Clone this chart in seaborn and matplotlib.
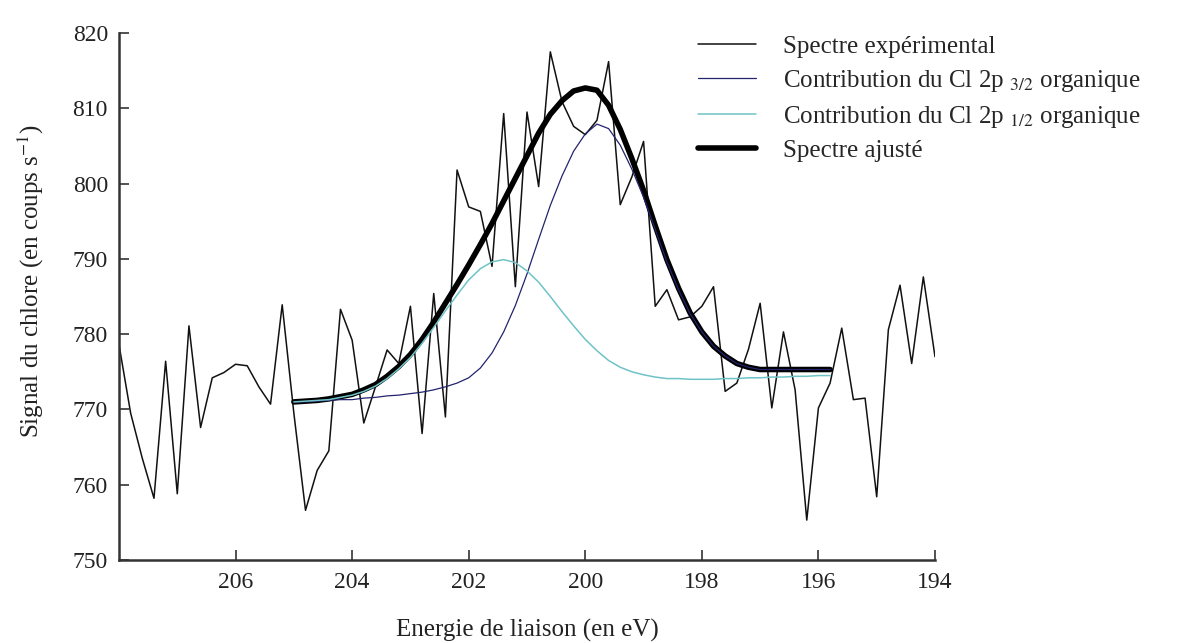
import matplotlib
matplotlib.use("Agg")
import matplotlib.pyplot as plt
import seaborn as sns
import pandas as pd

# Binding energy grid of the recorded spectrum (eV)
energy_exp = [208.0, 207.8, 207.6, 207.4, 207.2, 207.0, 206.8, 206.6, 206.4, 206.2,
              206.0, 205.8, 205.6, 205.4, 205.2, 205.0, 204.8, 204.6, 204.4, 204.2,
              204.0, 203.8, 203.6, 203.4, 203.2, 203.0, 202.8, 202.6, 202.4, 202.2,
              202.0, 201.8, 201.6, 201.4, 201.2, 201.0, 200.8, 200.6, 200.4, 200.2,
              200.0, 199.8, 199.6, 199.4, 199.2, 199.0, 198.8, 198.6, 198.4, 198.2,
              198.0, 197.8, 197.6, 197.4, 197.2, 197.0, 196.8, 196.6, 196.4, 196.2,
              196.0, 195.8, 195.6, 195.4, 195.2, 195.0, 194.8, 194.6, 194.4, 194.2,
              194.0]

# Measured chlorine signal (counts/s)
signal_exp = [778.6, 769.5, 763.5, 758.2, 776.4, 758.8, 781.1, 767.6, 774.2, 774.9,
              776.0, 775.8, 773.0, 770.7, 783.9, 769.5, 756.6, 761.9, 764.5, 783.3,
              779.2, 768.2, 773.0, 777.9, 776.1, 783.7, 766.8, 785.4, 769.0, 801.8,
              796.9, 796.3, 789.0, 809.3, 786.3, 809.5, 799.6, 817.5, 810.9, 807.6,
              806.5, 808.4, 816.2, 797.2, 800.9, 805.6, 783.7, 785.9, 781.9, 782.3,
              783.7, 786.3, 772.4, 773.5, 778.0, 784.1, 770.2, 780.3, 772.6, 755.3,
              770.2, 773.5, 780.8, 771.3, 771.5, 758.4, 780.6, 786.5, 776.1, 787.6,
              777.0]

# Energy grid of the fitted components (eV)
energy_fit = [205.0, 204.8, 204.6, 204.4, 204.2, 204.0, 203.8, 203.6, 203.4, 203.2,
              203.0, 202.8, 202.6, 202.4, 202.2, 202.0, 201.8, 201.6, 201.4, 201.2,
              201.0, 200.8, 200.6, 200.4, 200.2, 200.0, 199.8, 199.6, 199.4, 199.2,
              199.0, 198.8, 198.6, 198.4, 198.2, 198.0, 197.8, 197.6, 197.4, 197.2,
              197.0, 196.8, 196.6, 196.4, 196.2, 196.0, 195.8]

# Cl 2p3/2 organic component (with background)
cl_2p32 = [771.0, 771.0, 771.1, 771.2, 771.3, 771.3, 771.5, 771.6, 771.8, 771.9,
           772.1, 772.3, 772.6, 773.0, 773.5, 774.2, 775.5, 777.5, 780.3, 783.8,
           788.0, 792.6, 797.1, 801.0, 804.3, 806.6, 807.9, 807.3, 805.1, 801.9,
           798.2, 793.9, 789.6, 785.9, 782.7, 780.3, 778.4, 777.1, 776.1, 775.6,
           775.3, 775.3, 775.3, 775.3, 775.3, 775.3, 775.3]

# Cl 2p1/2 organic component (with background)
cl_2p12 = [771.0, 771.1, 771.2, 771.3, 771.6, 771.9, 772.4, 773.1, 774.1, 775.4,
           776.9, 778.8, 780.9, 783.1, 785.2, 787.2, 788.7, 789.6, 789.9, 789.5,
           788.4, 786.9, 785.0, 783.0, 781.1, 779.3, 777.8, 776.5, 775.6, 775.0,
           774.6, 774.3, 774.1, 774.1, 774.0, 774.0, 774.0, 774.1, 774.1, 774.2,
           774.2, 774.3, 774.3, 774.4, 774.4, 774.5, 774.5]

# Fitted envelope
fit_total = [771.0, 771.1, 771.2, 771.4, 771.7, 772.0, 772.6, 773.3, 774.4, 775.7,
             777.3, 779.3, 781.6, 784.1, 786.6, 789.2, 791.9, 794.7, 797.7, 800.7,
             803.7, 806.7, 809.2, 811.0, 812.3, 812.7, 812.4, 810.4, 807.2, 803.3,
             799.1, 794.4, 789.9, 786.1, 782.8, 780.3, 778.4, 777.1, 776.1, 775.6,
             775.3, 775.3, 775.3, 775.3, 775.3, 775.3, 775.3]

x_ticks = [206, 204, 202, 200, 198, 196, 194]
y_ticks = [750, 760, 770, 780, 790, 800, 810, 820]

labels = ["Spectre expérimental",
          r"Contribution du Cl 2p $_{\mathrm{3/2}}$ organique",
          r"Contribution du Cl 2p $_{\mathrm{1/2}}$ organique",
          "Spectre ajusté"]

sns.set_theme(style="ticks")
plt.rcParams["font.family"] = ["Liberation Serif", "DejaVu Serif"]
plt.rcParams["mathtext.fontset"] = "stix"

df_exp = pd.DataFrame({"energy": energy_exp, "signal": signal_exp})
df_fit = pd.DataFrame({"energy": energy_fit, "p32": cl_2p32,
                       "p12": cl_2p12, "total": fit_total})

fig = plt.figure(figsize=(11.87, 6.43), dpi=100)
ax = fig.add_axes([119 / 1187, 1 - 560 / 643, 816 / 1187, 527 / 643])

sns.lineplot(data=df_exp, x="energy", y="signal", ax=ax, sort=False,
             estimator=None, color="#111111", linewidth=1.1, label=labels[0],
             zorder=2)
sns.lineplot(data=df_fit, x="energy", y="total", ax=ax, sort=False,
             estimator=None, color="black", linewidth=4.0, label=labels[3],
             zorder=3)
sns.lineplot(data=df_fit, x="energy", y="p32", ax=ax, sort=False,
             estimator=None, color="#23236e", linewidth=0.9, label=labels[1],
             zorder=4)
sns.lineplot(data=df_fit, x="energy", y="p12", ax=ax, sort=False,
             estimator=None, color="#6fc3c6", linewidth=1.1, label=labels[2],
             zorder=5)

ax.set_xlim(208, 194)
ax.set_ylim(750, 820)
ax.set_xticks(x_ticks)
ax.set_xticklabels([str(t) for t in x_ticks])
ax.set_yticks(y_ticks)
ax.set_yticklabels([str(t) for t in y_ticks])
ax.tick_params(axis="both", direction="in", length=7, width=1.2,
               colors="#333333", labelcolor="#222222", labelsize=17)
ax.tick_params(axis="x", pad=9)
ax.tick_params(axis="y", pad=8)

for side in ("top", "right"):
    ax.spines[side].set_visible(False)
for side in ("left", "bottom"):
    ax.spines[side].set_linewidth(1.8)
    ax.spines[side].set_color("#333333")

ax.set_xlabel("Energie de liaison (en eV)", fontsize=18, color="#222222",
              va="center")
ax.set_ylabel(r"Signal du chlore (en coups s$^{\mathrm{-1}}$)", fontsize=18,
              color="#222222", va="center")
ax.xaxis.set_label_coords(0.5, -0.133)
ax.yaxis.set_label_coords(-0.108, 0.53)

handles, _ = ax.get_legend_handles_labels()
ax.get_legend().remove()
order = [0, 2, 3, 1]
hdl = [handles[i] for i in order]
fig.legend(hdl, labels, loc="upper left",
           bbox_to_anchor=(698 / 1187, 1 - 35 / 643), frameon=False,
           fontsize=18, handlelength=2.3, handletextpad=1.1,
           labelspacing=0.4, borderpad=0, borderaxespad=0)

fig.savefig("out.png", dpi=100)
